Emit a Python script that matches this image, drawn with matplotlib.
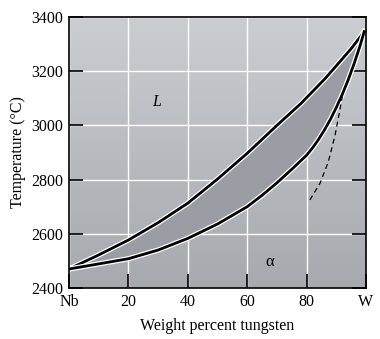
import numpy as np
import matplotlib
matplotlib.use("Agg")
import matplotlib.pyplot as plt
import matplotlib.patheffects as pe

# liquidus / solidus (wt% W, deg C)
liq_w = [0, 10, 20, 30, 40, 50, 60, 70, 78, 82, 86, 90, 95, 99.4]
liq_t = [2470, 2522, 2577, 2641, 2713, 2802, 2897, 3000, 3080, 3125, 3170, 3220, 3283, 3346]
sol_w = [0, 10, 20, 30, 40, 50, 60, 65, 70, 75, 80, 82, 84, 86, 88, 90, 92, 94, 96, 98, 99.4]
sol_t = [2470, 2489, 2508, 2540, 2583, 2636, 2700, 2742, 2788, 2838, 2890, 2917, 2948,
         2983, 3022, 3066, 3114, 3168, 3228, 3294, 3346]
dash_w = [81.1, 84.5, 87.3, 89.6, 91.0, 92.1]
dash_t = [2725, 2786, 2865, 2965, 3045, 3112]

xticks = [0, 20, 40, 60, 80, 100]
xlabels = ["Nb", "20", "40", "60", "80", "W"]
yticks = [2400, 2600, 2800, 3000, 3200, 3400]

plt.rcParams['font.family'] = ['Liberation Serif', 'DejaVu Serif']

fig = plt.figure(figsize=(3.8, 3.39), dpi=100)
ax = fig.add_axes([69/380, 51/339, 297/380, 271/339])

# gray background gradient, lighter at the top
grad = np.linspace(0, 1, 256).reshape(-1, 1)
cmap = matplotlib.colors.LinearSegmentedColormap.from_list("bg", ["#a6a9ae", "#cacdd1"])
ax.imshow(grad, extent=[0, 100, 2400, 3400], origin="lower", aspect="auto", cmap=cmap, zorder=0)

ax.set_xlim(0, 100)
ax.set_ylim(2400, 3400)
ax.set_xticks(xticks)
ax.set_xticklabels(xlabels)
ax.set_yticks(yticks)
ax.grid(True, color="white", lw=1.0, zorder=1)

# two-phase region
ax.fill(liq_w + sol_w[::-1], liq_t + sol_t[::-1], color="#9a9da4", zorder=2, lw=0)

halo = [pe.Stroke(linewidth=3.8, foreground="white"), pe.Normal()]
ax.plot(liq_w, liq_t, color="black", lw=2.0, zorder=3, path_effects=halo,
        solid_joinstyle="round")
ax.plot(sol_w, sol_t, color="black", lw=2.0, zorder=3, path_effects=halo,
        solid_joinstyle="round")
ax.plot(dash_w, dash_t, color="black", lw=0.9, ls=(0, (4, 3)), zorder=3)

ax.text(29.5, 3087, "L", style="italic", fontsize=11.5, ha="center", va="center", zorder=4)
ax.text(67.7, 2497, "α", fontsize=12, ha="center", va="center", zorder=4)

ax.tick_params(direction="in", length=10, width=1.2, labelsize=11.5, right=True, top=False, pad=4)
for s in ax.spines.values():
    s.set_linewidth(1.2)
    s.set_zorder(5)

ax.set_xlabel("Weight percent tungsten", fontsize=11.5, labelpad=6)
ax.set_ylabel("Temperature (°C)", fontsize=11.5, labelpad=4)

fig.savefig("out.png", dpi=100)
